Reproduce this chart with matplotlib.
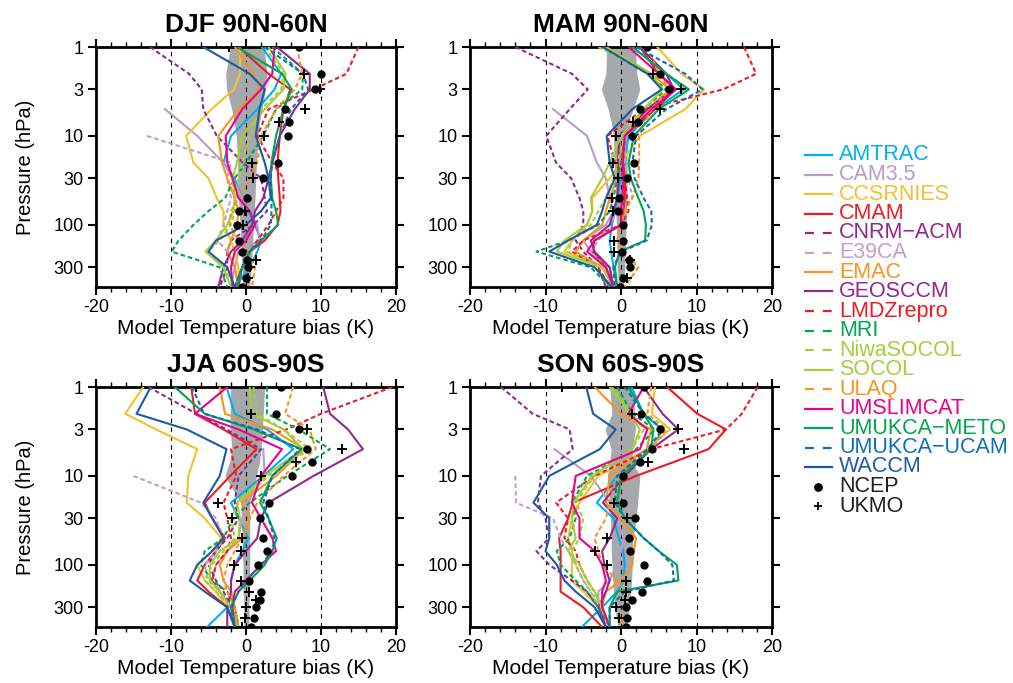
import numpy as np
import matplotlib.pyplot as plt
from matplotlib.lines import Line2D
from matplotlib.ticker import FixedLocator, NullLocator, MultipleLocator

plt.rcParams['font.family'] = ['Liberation Sans', 'DejaVu Sans']
plt.rcParams['axes.unicode_minus'] = False

nan = np.nan

seasons = ['DJF 90N-60N', 'MAM 90N-60N', 'JJA 60S-90S', 'SON 60S-90S']

# pressure levels (hPa) of the model profiles and of the analyses
model_levels = [1, 2, 3, 5, 10, 20, 30, 50, 70, 100, 150, 200, 300, 500]
obs_levels = [1, 2, 3, 5, 7, 10, 20, 30, 50, 70, 100, 150, 200, 250, 300, 400, 500]

# temperature bias (K), one row per season: DJF, MAM, JJA, SON
amtrac = [
    [2.1, 4.7, 3.8, 1.5, -2.0, -3.0, -1.5, -0.5, 0.3, 1.2, 2.0, 1.5, 0.5, -1.5],
    [1.5, 6.0, 8.3, 4.5, 1.0, 0.5, 0.0, -0.5, -0.8, -1.2, -1.5, -1.3, -1.0, -0.5],
    [-2.6, -1.5, 2.8, 6.3, 2.3, -2.0, -1.0, 0.3, -0.5, -1.5, -2.0, -2.0, -2.5, -5.2],
    [1.4, 3.0, 5.5, 4.0, -0.5, -3.2, -1.0, -0.3, 0.3, 0.5, 0.3, -0.5, -2.5, -5.2],
]
cam35 = [
    [nan, nan, nan, -10.8, -6.5, -3.0, -1.8, -0.5, 0.5, 1.5, 1.8, -1.0, -1.5, -2.0],
    [nan, nan, nan, -9.0, -4.5, -3.2, -2.0, -1.5, -1.0, -2.0, -5.0, -4.0, -1.5, -1.0],
    [nan, nan, nan, 2.3, 2.5, 0.0, -0.5, -1.0, -2.5, -4.0, -4.5, -3.5, -2.0, -1.0],
    [nan, nan, nan, -8.8, -4.0, -1.5, -0.5, 0.3, 0.0, -0.5, -1.5, -3.0, -3.0, -2.0],
]
ccsrnies = [
    [-0.8, -0.8, -1.6, -4.6, -8.0, -7.0, -5.0, -3.9, -3.0, -3.0, -2.0, -1.5, -1.0, -1.0],
    [4.8, 8.0, 11.0, 8.5, 2.5, 0.0, -1.5, -3.8, -3.8, -4.5, -6.5, -7.5, -2.0, -1.0],
    [-13.7, -16.1, -12.0, -6.5, -7.7, -7.9, -5.5, -3.3, -4.5, -6.5, -5.5, -4.0, -2.5, -1.5],
    [4.5, 4.1, 6.5, 3.5, -3.0, -5.5, -6.5, -7.0, -6.5, -6.5, -6.5, -5.0, -3.0, -1.5],
]
cmam = [
    [-1.0, 3.0, 5.9, 5.0, 4.5, 4.2, 4.3, 4.5, 4.6, 4.2, 2.5, 0.5, -0.5, -1.5],
    [2.5, 5.0, 7.2, 4.5, 0.5, 0.3, 0.5, 0.5, 0.3, 0.0, -3.5, -3.7, -2.0, -1.0],
    [-7.3, -6.8, -3.0, 1.4, -2.1, -5.5, -4.5, -2.8, -4.0, -5.5, -6.5, -5.0, -2.5, -1.5],
    [6.1, 10.1, 13.9, 11.6, 2.0, -6.4, -7.0, -8.2, -8.0, -8.0, -8.0, -8.0, -5.0, -2.5],
]
cnrm_acm = [
    [-12.8, -7.6, -5.9, -5.7, -3.9, -0.4, 2.0, 2.5, 2.8, 1.0, -2.0, -2.5, -2.5, -3.5],
    [-14.0, -6.5, -4.4, -6.8, -9.9, -8.6, -6.6, -5.5, -5.0, -5.0, -6.0, -5.0, -3.0, -2.0],
    [-13.0, -6.6, -2.6, 2.0, -1.0, -1.5, -1.0, -2.5, -4.0, -5.0, -4.0, -3.0, -2.0, -1.5],
    [-15.9, -11.7, -6.8, -6.4, -10.6, -11.0, -10.0, -9.5, -11.2, -9.5, -6.5, -4.5, -3.0, -2.0],
]
e39ca = [
    [nan, nan, nan, nan, -13.2, -2.0, -2.5, -2.0, -2.5, -3.0, -3.8, -2.5, -1.5, -1.0],
    [nan, nan, nan, nan, 0.5, 0.5, 1.0, 1.5, -0.5, -1.5, -3.0, -4.0, -2.0, -1.0],
    [nan, nan, nan, nan, -15.0, -6.0, -4.0, -3.0, -4.0, -5.5, -5.0, -3.5, -2.0, -1.0],
    [nan, nan, nan, nan, -14.0, -13.9, -9.0, -8.0, -7.0, -6.0, -5.0, -4.0, -3.0, -2.0],
]
emac = [
    [-1.5, 1.0, 1.9, -1.0, -3.7, -3.2, -2.5, -1.5, -1.0, -1.2, -2.0, -2.5, -1.5, -1.0],
    [-2.0, 4.0, 6.5, 3.5, 0.5, -0.3, -0.5, -1.5, -2.0, -2.5, -5.0, -6.0, -2.5, -1.0],
    [-3.5, -2.8, 3.5, 7.8, 4.0, -0.6, 0.5, -0.5, -2.5, -3.5, -3.0, -2.0, -1.5, -1.0],
    [-3.5, 0.0, 4.0, 3.4, -1.5, -2.0, 0.0, 2.0, 1.7, 1.5, 0.0, -2.0, -2.5, -1.5],
]
geosccm = [
    [4.1, 8.5, 8.5, 6.5, 4.5, 3.5, 3.0, 2.3, 1.2, 0.8, -0.5, -2.0, -3.0, -3.7],
    [2.5, 6.0, 7.0, 3.5, -0.2, -0.4, -0.3, -0.5, -1.0, -1.5, -4.0, -3.5, -1.5, -1.0],
    [10.3, 11.2, 13.6, 15.6, 9.0, 3.0, 2.0, 1.5, 0.0, -1.5, -2.0, -2.0, -2.5, -2.5],
    [3.0, 5.5, 7.6, 4.0, 0.5, -2.4, -0.5, -1.5, -2.5, -2.2, -1.5, -2.0, -3.0, -2.0],
]
lmdzrepro = [
    [15.0, 13.4, 9.0, 3.0, 1.5, 3.5, 5.0, 5.0, 4.0, 3.0, 1.5, 0.5, -0.5, -1.0],
    [16.3, 17.9, 13.5, 3.0, -1.8, -0.8, 0.5, 0.8, 1.0, 0.0, -5.0, -6.5, -3.0, -1.5],
    [19.5, 10.0, 5.4, -2.0, -1.3, -3.0, -2.5, -2.0, -2.5, -4.0, -4.5, -3.5, -2.0, -1.0],
    [18.1, 16.0, 13.9, 4.0, -3.5, -8.6, -7.0, -7.5, -6.0, -5.5, -4.5, -3.5, -2.5, -1.5],
]
mri = [
    [3.5, 7.6, 7.5, 4.0, 2.3, 0.0, -1.5, -2.8, -5.0, -7.0, -9.0, -9.9, -3.5, -2.5],
    [-2.5, 3.5, 6.0, 3.0, 0.5, 0.0, -0.5, -1.0, -1.5, -3.0, -7.0, -11.2, -4.0, -1.5],
    [2.8, 2.8, 7.0, 11.2, 5.5, 0.5, -1.7, -3.0, -5.5, -6.0, -4.5, -2.5, -1.5, -1.0],
    [-0.5, 1.5, 4.5, 2.0, -4.5, -6.5, -6.0, -6.8, -8.5, -8.0, -6.0, -4.5, -3.0, -1.5],
]
niwasocol = [
    [2.5, 5.0, 4.7, 2.0, 0.5, -0.5, -1.0, -1.3, -1.5, -2.0, -3.5, -5.2, -3.0, -1.5],
    [-3.0, 3.8, 5.5, 3.0, 0.5, -0.5, -1.0, -2.0, -3.0, -4.0, -6.5, -7.0, -2.5, -1.0],
    [1.0, 1.5, 5.0, 8.5, 3.0, -1.0, -2.0, -1.5, -3.0, -4.5, -5.5, -4.0, -2.0, -1.0],
    [-1.2, 1.5, 3.0, 1.5, -3.5, -6.0, -5.0, -5.5, -6.5, -6.0, -5.0, -4.0, -2.5, -1.5],
]
socol = [
    [3.0, 5.3, 5.0, 2.5, -0.5, -1.2, -1.8, -1.5, -1.7, -2.5, -4.0, -5.4, -3.0, -2.0],
    [-2.0, 4.0, 5.5, 3.0, 0.0, -1.5, -2.5, -4.0, -3.8, -4.5, -7.5, -8.5, -2.5, -1.0],
    [0.5, 0.8, 5.0, 7.6, 2.5, -1.2, -0.8, -1.0, -3.5, -4.8, -4.8, -3.5, -2.0, -1.0],
    [-1.5, 1.2, 2.5, 1.5, -3.8, -6.3, -6.5, -6.0, -7.0, -5.5, -4.5, -3.5, -2.5, -1.5],
]
ulaq = [
    [6.8, 7.5, 6.5, 4.0, 2.0, 1.5, 0.5, -1.0, -2.0, -2.2, -1.0, 0.5, 1.2, 0.8],
    [3.5, 5.0, 6.5, 4.0, 2.4, 2.4, 2.3, 1.5, 0.5, 0.0, -0.5, 0.3, 2.3, 0.5],
    [6.3, 5.2, 8.5, 9.3, 5.0, 1.5, 0.5, -0.5, -1.5, -2.5, -3.0, -2.5, -1.5, -1.0],
    [4.0, 3.5, 6.0, 4.0, -0.5, -1.5, -2.0, -3.5, -3.0, -2.5, -0.5, 0.5, 0.5, 0.0],
]
umslimcat = [
    [3.8, 3.5, 2.0, -0.5, -2.7, -2.5, -1.8, -1.0, 0.5, 1.2, 0.0, -1.5, -2.0, -1.8],
    [1.0, 5.0, 7.3, 4.0, 0.5, 0.2, 0.3, 0.2, 0.0, 0.0, -3.5, -4.5, -2.0, -1.0],
    [-2.5, -6.8, -1.0, 4.8, 2.0, 0.8, 2.0, 3.5, 4.0, 2.0, 0.0, -1.5, -1.8, -1.5],
    [3.0, 1.0, 3.5, 2.5, -6.0, -6.5, -5.5, -5.5, -3.5, -2.5, -2.0, -2.5, -2.5, -1.5],
]
umukca_meto = [
    [-1.2, 4.8, 6.1, 5.0, 4.0, 3.4, 3.3, 3.5, 4.0, 4.3, 2.0, 0.5, -0.5, -1.2],
    [1.5, 6.0, 9.0, 5.0, 1.7, 1.0, 1.3, 2.3, 3.0, 3.3, 3.2, -0.2, -0.8, -0.5],
    [-9.5, -5.5, 1.0, 7.4, 3.5, 1.9, 3.0, 4.1, 3.5, 2.5, 0.5, -1.0, -2.0, -1.5],
    [1.0, 3.0, 4.3, 4.0, 0.0, -0.5, 0.5, 3.0, 5.0, 7.4, 7.6, -0.5, -1.5, -1.5],
]
umukca_ucam = [
    [2.5, 7.6, 8.3, 6.0, 4.5, 3.5, 3.3, 3.4, 3.4, 3.3, 2.0, 0.5, -0.5, -1.5],
    [2.0, 8.5, 10.8, 6.0, 2.0, 1.5, 1.8, 3.0, 4.0, 4.1, 3.4, 0.0, -1.0, -0.8],
    [-7.2, -5.6, 1.5, 7.2, 3.5, 2.3, 3.0, 3.8, 3.5, 2.0, 0.0, -1.0, -2.0, -1.5],
    [0.5, 3.0, 5.5, 3.5, -0.5, -0.8, 0.5, 3.0, 5.0, 6.8, 7.0, 0.5, -1.5, -1.5],
]
waccm = [
    [-5.7, 0.5, 2.5, 1.8, 1.3, 2.5, 3.0, 3.3, 2.0, 0.0, -4.0, -5.0, -2.5, -1.5],
    [-2.4, 3.5, 5.4, 1.5, -1.9, -1.5, -0.8, -2.0, -2.5, -3.2, -7.0, -9.5, -3.5, -1.2],
    [-12.7, -14.6, -7.9, -2.6, -3.5, -5.7, -4.5, -3.0, -4.5, -6.5, -7.5, -5.5, -2.5, -1.5],
    [-4.6, -3.7, -0.7, -2.8, -9.5, -11.6, -9.5, -9.5, -10.0, -8.5, -7.5, -6.0, -3.5, -2.0],
]

# analyses on obs_levels
ncep = [
    [7.1, 10.0, 9.2, 5.2, 5.7, 5.6, 4.2, 2.2, 0.1, -0.9, -1.2, -0.9, -0.6, 0.1, 0.3, 0.0, -0.5],
    [3.4, 5.1, 6.4, 2.5, 2.2, 1.5, 1.7, 0.8, -0.3, -0.4, 0.3, 0.2, 0.1, 1.0, 1.2, 0.3, -0.1],
    [4.6, 4.0, 7.1, 8.1, 8.8, 6.1, 3.1, 1.9, 2.2, 2.8, 1.6, 0.4, 2.0, 1.8, 1.3, 1.0, 0.6],
    [3.1, 2.6, 5.1, 4.1, 2.5, 0.2, 0.3, 1.8, 1.1, 1.2, 3.0, 3.5, 2.8, 1.4, 0.7, 0.8, 0.7],
]
ukmo = [
    [-2.3, 7.7, 9.9, 7.9, 4.4, 2.4, 0.8, 0.9, nan, -0.2, -0.4, nan, nan, 1.3, 0.5, 0.2, nan],
    [nan, 4.3, 7.9, 5.1, 1.6, -0.7, -1.1, -0.4, -1.2, -1.1, nan, -0.9, -0.9, 1.2, nan, 0.8, nan],
    [-6.7, 0.6, 8.1, 12.8, 6.7, 2.0, -3.7, -1.9, -0.6, -0.7, -1.6, -0.7, 0.4, 1.3, 0.0, -0.1, -0.6],
    [-7.8, 1.5, 7.6, 8.3, 3.6, nan, -0.9, 0.8, -1.8, -3.5, -1.9, 0.7, 0.7, 0.5, -0.6, -0.3, nan],
]

# spread of the analyses (grey band)
band_lo = [
    [-2.1, -2.7, -2.6, -1.9, -1.6, -1.3, -1.1, -1.1, -1.0, -0.9, -0.8, -0.7, -0.6, -0.6, -0.5, -0.5, -0.4],
    [-1.9, -2.0, -2.6, -1.7, -1.3, -1.0, -0.9, -0.8, -0.7, -0.7, -0.6, -0.6, -0.5, -0.5, -0.5, -0.4, -0.4],
    [-2.1, -2.1, -2.1, -1.9, -2.2, -2.8, -0.7, -0.6, -0.5, -0.5, -0.4, -0.4, -0.4, -0.3, -0.3, -0.3, -0.3],
    [-1.5, -1.2, -2.1, -1.3, -1.5, -1.8, -1.5, -1.4, -1.3, -1.3, -1.2, -1.1, -1.0, -0.9, -0.8, -0.6, -0.4],
]
band_hi = [
    [2.4, 2.8, 2.6, 2.1, 1.8, 1.6, 1.4, 1.3, 1.2, 1.1, 1.0, 0.9, 0.8, 0.8, 0.7, 0.6, 0.5],
    [1.9, 2.1, 2.5, 1.6, 1.0, 0.8, 0.8, 0.8, 0.8, 0.7, 0.7, 0.6, 0.6, 0.5, 0.5, 0.4, 0.3],
    [2.5, 2.3, 2.2, 2.0, 1.8, 1.4, 0.5, 0.5, 0.5, 0.5, 0.5, 0.5, 0.4, 0.4, 0.4, 0.4, 0.3],
    [1.6, 1.8, 1.9, 1.5, 1.5, 2.5, 2.2, 2.0, 1.6, 1.5, 1.5, 1.4, 1.3, 1.2, 1.1, 0.9, 0.6],
]

# name, data, colour, dashed?
models = [
    ('AMTRAC', amtrac, '#00aeef', False),
    ('CAM3.5', cam35, '#b99bcb', False),
    ('CCSRNIES', ccsrnies, '#f2c12e', False),
    ('CMAM', cmam, '#ed1c24', False),
    ('CNRM\u2212ACM', cnrm_acm, '#92278f', True),
    ('E39CA', e39ca, '#c59dcc', True),
    ('EMAC', emac, '#f7941d', False),
    ('GEOSCCM', geosccm, '#92278f', False),
    ('LMDZrepro', lmdzrepro, '#ed1c24', True),
    ('MRI', mri, '#00a651', True),
    ('NiwaSOCOL', niwasocol, '#a6ce39', True),
    ('SOCOL', socol, '#a6ce39', False),
    ('ULAQ', ulaq, '#f7941d', True),
    ('UMSLIMCAT', umslimcat, '#ec008c', False),
    ('UMUKCA\u2212METO', umukca_meto, '#00a651', False),
    ('UMUKCA\u2212UCAM', umukca_ucam, '#0f6fb6', True),
    ('WACCM', waccm, '#1c5aa8', False),
]

W, H = 1013, 683
fig = plt.figure(figsize=(W / 100, H / 100), dpi=100)

# axes boxes in pixels: left, top, right, bottom
boxes = [(96, 47, 396, 287), (470, 47, 772, 287),
         (96, 387, 396, 627), (470, 387, 772, 627)]

for k, (x0, y0, x1, y1) in enumerate(boxes):
    ax = fig.add_axes([x0 / W, 1 - y1 / H, (x1 - x0) / W, (y1 - y0) / H])

    ax.fill_betweenx(obs_levels, band_lo[k], band_hi[k], color='#a6a8ab', lw=0, zorder=1)
    for xv in (-10, 0, 10):
        ax.axvline(xv, color='k', lw=0.8, ls=(0, (4, 4)), zorder=2)

    for name, vals, color, dashed in models:
        ls = (0, (2.2, 1.4)) if dashed else '-'
        ax.plot(vals[k], model_levels, color=color, lw=1.5, ls=ls, zorder=3)

    ax.plot(ncep[k], obs_levels, 'o', color='k', ms=5, zorder=5)
    ax.plot(ukmo[k], obs_levels, '+', color='k', ms=6.5, mew=1.4, zorder=5)

    ax.set_yscale('log')
    ax.set_ylim(500, 1)
    ax.set_xlim(-20, 20)
    ax.yaxis.set_major_locator(FixedLocator([1, 3, 10, 30, 100, 300]))
    ax.yaxis.set_minor_locator(NullLocator())
    ax.set_yticklabels(['1', '3', '10', '30', '100', '300'])
    ax.xaxis.set_major_locator(MultipleLocator(10))
    ax.xaxis.set_minor_locator(MultipleLocator(2))
    ax.tick_params(which='both', direction='out', top=True, right=True,
                   labelsize=13, width=1.5, pad=3)
    ax.tick_params(which='major', length=6)
    ax.tick_params(which='minor', length=3.5, width=1.0)
    for sp in ax.spines.values():
        sp.set_linewidth(2)

    ax.set_title(seasons[k], fontsize=19, fontweight='bold', pad=10.5)
    ax.set_xlabel('Model Temperature bias (K)', fontsize=15, labelpad=2)
    if k % 2 == 0:
        ax.set_ylabel('Pressure (hPa)', fontsize=14.5, labelpad=13)

# legend on the right
for i, (name, vals, color, dashed) in enumerate(models):
    y = 1 - (155 + i * 19.5) / H
    ls = (0, (4, 4)) if dashed else '-'
    fig.add_artist(Line2D([805 / W, 832 / W], [y, y], color=color, lw=1.6, ls=ls))
    fig.text(839 / W, y, name, color=color, fontsize=15.5, va='center', ha='left')

for j, (name, mk) in enumerate([('NCEP', 'o'), ('UKMO', '+')]):
    y = 1 - (155 + (17 + j) * 19.5) / H
    fig.add_artist(Line2D([818 / W], [y], marker=mk, color='k', ms=5 if mk == 'o' else 6,
                          mew=1.3, ls='none'))
    fig.text(839 / W, y, name, color='#231f20', fontsize=15.5, va='center', ha='left')

fig.savefig('out.png', dpi=100)
